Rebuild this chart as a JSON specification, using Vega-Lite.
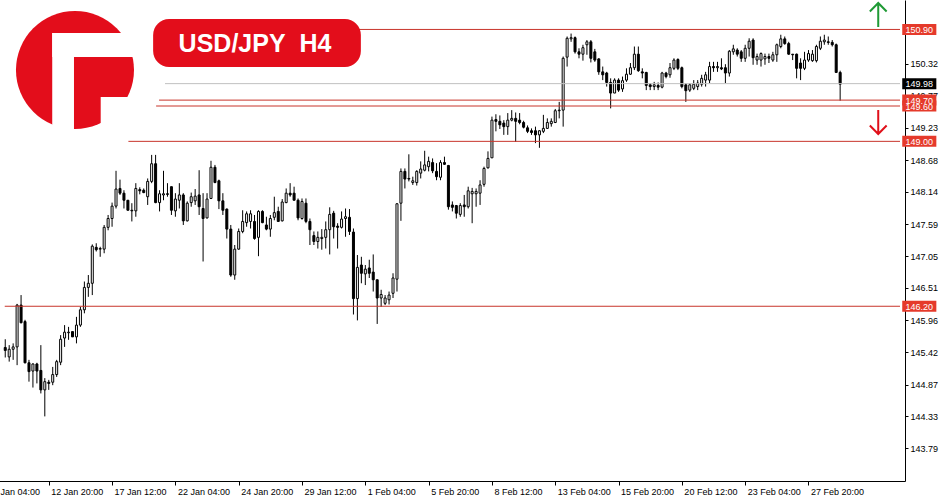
{
  "$schema": "https://vega.github.io/schema/vega-lite/v6.json",
  "width": 929,
  "height": 481,
  "autosize": "none",
  "padding": {"left": -24, "top": 0, "right": 45, "bottom": 19},
  "background": "white",
  "config": {"view": {"stroke": null}},
  "resolve": {"scale": {"color": "independent"}},
  "datasets": {
    "candles": [
      {"i":5,"o":145.50,"h":145.64,"l":145.33,"c":145.45},
      {"i":6,"o":145.34,"h":145.54,"l":145.26,"c":145.47},
      {"i":7,"o":145.47,"h":145.57,"l":145.29,"c":145.51},
      {"i":8,"o":145.51,"h":146.24,"l":145.20,"c":146.22},
      {"i":9,"o":146.22,"h":146.39,"l":145.91,"c":145.92},
      {"i":10,"o":145.94,"h":145.97,"l":145.23,"c":145.24},
      {"i":11,"o":145.24,"h":145.29,"l":144.92,"c":145.09},
      {"i":12,"o":145.10,"h":145.23,"l":144.82,"c":145.22},
      {"i":13,"o":145.22,"h":145.24,"l":144.89,"c":145.10},
      {"i":14,"o":145.11,"h":145.54,"l":144.72,"c":144.78},
      {"i":15,"o":144.78,"h":144.98,"l":144.33,"c":144.92},
      {"i":16,"o":144.91,"h":144.95,"l":144.78,"c":144.89},
      {"i":17,"o":144.91,"h":145.17,"l":144.86,"c":145.04},
      {"i":18,"o":145.04,"h":145.29,"l":145.00,"c":145.26},
      {"i":19,"o":145.25,"h":145.71,"l":145.20,"c":145.64},
      {"i":20,"o":145.66,"h":145.88,"l":145.51,"c":145.76},
      {"i":21,"o":145.75,"h":145.85,"l":145.63,"c":145.76},
      {"i":22,"o":145.77,"h":145.77,"l":145.68,"c":145.68},
      {"i":23,"o":145.68,"h":146.02,"l":145.57,"c":145.88},
      {"i":24,"o":145.88,"h":146.19,"l":145.85,"c":146.14},
      {"i":25,"o":146.14,"h":146.62,"l":146.08,"c":146.52},
      {"i":26,"o":146.52,"h":146.73,"l":146.36,"c":146.59},
      {"i":27,"o":146.59,"h":147.25,"l":146.39,"c":147.22},
      {"i":28,"o":147.20,"h":147.27,"l":147.13,"c":147.16},
      {"i":29,"o":147.17,"h":147.21,"l":147.04,"c":147.18},
      {"i":30,"o":147.17,"h":147.58,"l":147.10,"c":147.54},
      {"i":31,"o":147.54,"h":147.75,"l":147.49,"c":147.69},
      {"i":32,"o":147.69,"h":147.96,"l":147.55,"c":147.90},
      {"i":33,"o":147.90,"h":148.50,"l":147.86,"c":148.19},
      {"i":34,"o":148.20,"h":148.35,"l":148.09,"c":148.12},
      {"i":35,"o":148.12,"h":148.17,"l":147.86,"c":148.00},
      {"i":36,"o":148.00,"h":148.00,"l":147.83,"c":147.83},
      {"i":37,"o":147.83,"h":147.95,"l":147.64,"c":147.82},
      {"i":38,"o":147.82,"h":148.29,"l":147.72,"c":148.20},
      {"i":39,"o":148.18,"h":148.22,"l":148.10,"c":148.16},
      {"i":40,"o":148.17,"h":148.20,"l":148.12,"c":148.13},
      {"i":41,"o":148.06,"h":148.37,"l":147.92,"c":148.32},
      {"i":42,"o":148.32,"h":148.77,"l":148.29,"c":148.62},
      {"i":43,"o":148.62,"h":148.77,"l":147.95,"c":147.96},
      {"i":44,"o":147.96,"h":148.17,"l":147.81,"c":148.11},
      {"i":45,"o":148.09,"h":148.50,"l":148.00,"c":148.11},
      {"i":46,"o":148.11,"h":148.29,"l":148.06,"c":148.10},
      {"i":47,"o":148.23,"h":148.23,"l":147.75,"c":147.83},
      {"i":48,"o":147.82,"h":148.12,"l":147.72,"c":148.02},
      {"i":49,"o":148.00,"h":148.29,"l":147.86,"c":148.09},
      {"i":50,"o":148.09,"h":148.12,"l":147.58,"c":147.65},
      {"i":51,"o":147.65,"h":147.98,"l":147.64,"c":147.95},
      {"i":52,"o":147.96,"h":148.13,"l":147.89,"c":148.06},
      {"i":53,"o":147.99,"h":148.19,"l":147.92,"c":148.07},
      {"i":54,"o":148.09,"h":148.51,"l":147.75,"c":147.89},
      {"i":55,"o":147.86,"h":148.12,"l":146.96,"c":147.69},
      {"i":56,"o":147.70,"h":148.12,"l":147.69,"c":148.02},
      {"i":57,"o":148.03,"h":148.67,"l":148.02,"c":148.56},
      {"i":58,"o":148.56,"h":148.60,"l":148.29,"c":148.30},
      {"i":59,"o":148.33,"h":148.35,"l":147.85,"c":147.99},
      {"i":60,"o":147.99,"h":148.12,"l":147.75,"c":147.83},
      {"i":61,"o":147.85,"h":147.86,"l":147.35,"c":147.51},
      {"i":62,"o":147.51,"h":147.58,"l":146.70,"c":146.73},
      {"i":63,"o":146.73,"h":147.24,"l":146.65,"c":147.17},
      {"i":64,"o":147.17,"h":147.52,"l":147.16,"c":147.47},
      {"i":65,"o":147.47,"h":147.83,"l":147.44,"c":147.64},
      {"i":66,"o":147.62,"h":147.81,"l":147.55,"c":147.77},
      {"i":67,"o":147.64,"h":147.83,"l":147.52,"c":147.77},
      {"i":68,"o":147.64,"h":147.75,"l":147.33,"c":147.35},
      {"i":69,"o":147.37,"h":147.83,"l":147.05,"c":147.81},
      {"i":70,"o":147.81,"h":147.83,"l":147.61,"c":147.62},
      {"i":71,"o":147.58,"h":147.72,"l":147.49,"c":147.51},
      {"i":72,"o":147.51,"h":147.75,"l":147.38,"c":147.69},
      {"i":73,"o":147.71,"h":148.06,"l":147.66,"c":147.79},
      {"i":74,"o":147.81,"h":147.89,"l":147.64,"c":147.64},
      {"i":75,"o":147.65,"h":148.02,"l":147.64,"c":147.97},
      {"i":76,"o":147.96,"h":148.20,"l":147.95,"c":148.12},
      {"i":77,"o":148.12,"h":148.29,"l":148.06,"c":148.09},
      {"i":78,"o":148.12,"h":148.23,"l":148.00,"c":148.00},
      {"i":79,"o":148.00,"h":148.03,"l":147.66,"c":147.70},
      {"i":80,"o":147.69,"h":148.03,"l":147.67,"c":147.98},
      {"i":81,"o":147.95,"h":148.03,"l":147.61,"c":147.64},
      {"i":82,"o":147.64,"h":147.69,"l":147.24,"c":147.50},
      {"i":83,"o":147.40,"h":147.47,"l":147.24,"c":147.30},
      {"i":84,"o":147.30,"h":147.47,"l":147.18,"c":147.37},
      {"i":85,"o":147.35,"h":147.51,"l":147.16,"c":147.37},
      {"i":86,"o":147.37,"h":147.64,"l":147.18,"c":147.50},
      {"i":87,"o":147.50,"h":147.88,"l":147.08,"c":147.76},
      {"i":88,"o":147.78,"h":147.82,"l":147.35,"c":147.55},
      {"i":89,"o":147.56,"h":147.61,"l":147.18,"c":147.54},
      {"i":90,"o":147.54,"h":147.81,"l":147.52,"c":147.68},
      {"i":91,"o":147.69,"h":147.86,"l":147.38,"c":147.72},
      {"i":92,"o":147.71,"h":147.85,"l":147.41,"c":147.47},
      {"i":93,"o":147.46,"h":147.52,"l":146.06,"c":146.33},
      {"i":94,"o":146.33,"h":147.07,"l":145.96,"c":146.86},
      {"i":95,"o":146.90,"h":147.04,"l":146.59,"c":146.76},
      {"i":96,"o":146.75,"h":146.90,"l":146.56,"c":146.83},
      {"i":97,"o":146.85,"h":146.99,"l":146.68,"c":146.76},
      {"i":98,"o":146.78,"h":147.08,"l":146.45,"c":146.65},
      {"i":99,"o":146.65,"h":146.65,"l":145.90,"c":146.34},
      {"i":100,"o":146.34,"h":146.48,"l":146.19,"c":146.40},
      {"i":101,"o":146.25,"h":146.39,"l":146.22,"c":146.34},
      {"i":102,"o":146.31,"h":146.45,"l":146.23,"c":146.39},
      {"i":103,"o":146.42,"h":146.76,"l":146.34,"c":146.68},
      {"i":104,"o":146.66,"h":147.95,"l":146.45,"c":147.94},
      {"i":105,"o":147.95,"h":148.54,"l":147.65,"c":148.49},
      {"i":106,"o":148.49,"h":148.54,"l":148.20,"c":148.36},
      {"i":107,"o":148.37,"h":148.78,"l":148.32,"c":148.36},
      {"i":108,"o":148.30,"h":148.40,"l":148.26,"c":148.33},
      {"i":109,"o":148.30,"h":148.51,"l":148.25,"c":148.49},
      {"i":110,"o":148.46,"h":148.66,"l":148.37,"c":148.53},
      {"i":111,"o":148.51,"h":148.84,"l":148.49,"c":148.60},
      {"i":112,"o":148.57,"h":148.74,"l":148.49,"c":148.66},
      {"i":113,"o":148.64,"h":148.71,"l":148.46,"c":148.50},
      {"i":114,"o":148.49,"h":148.63,"l":148.34,"c":148.40},
      {"i":115,"o":148.39,"h":148.68,"l":148.34,"c":148.64},
      {"i":116,"o":148.64,"h":148.74,"l":148.60,"c":148.61},
      {"i":117,"o":148.59,"h":148.60,"l":147.84,"c":147.89},
      {"i":118,"o":147.92,"h":147.98,"l":147.81,"c":147.88},
      {"i":119,"o":147.91,"h":147.92,"l":147.69,"c":147.78},
      {"i":120,"o":147.76,"h":147.95,"l":147.72,"c":147.91},
      {"i":121,"o":147.92,"h":148.09,"l":147.72,"c":147.89},
      {"i":122,"o":147.89,"h":148.23,"l":147.86,"c":148.16},
      {"i":123,"o":148.11,"h":148.21,"l":147.61,"c":148.15},
      {"i":124,"o":148.11,"h":148.20,"l":147.89,"c":148.15},
      {"i":125,"o":148.12,"h":148.34,"l":147.92,"c":148.26},
      {"i":126,"o":148.27,"h":148.57,"l":148.23,"c":148.54},
      {"i":127,"o":148.55,"h":148.83,"l":148.54,"c":148.71},
      {"i":128,"o":148.72,"h":149.42,"l":148.72,"c":149.36},
      {"i":129,"o":149.37,"h":149.46,"l":149.17,"c":149.34},
      {"i":130,"o":149.34,"h":149.44,"l":149.21,"c":149.28},
      {"i":131,"o":149.31,"h":149.36,"l":149.11,"c":149.25},
      {"i":132,"o":149.25,"h":149.48,"l":149.11,"c":149.36},
      {"i":133,"o":149.36,"h":149.53,"l":149.34,"c":149.39},
      {"i":134,"o":149.39,"h":149.49,"l":148.99,"c":149.34},
      {"i":135,"o":149.36,"h":149.48,"l":149.29,"c":149.32},
      {"i":136,"o":149.32,"h":149.35,"l":149.22,"c":149.24},
      {"i":137,"o":149.23,"h":149.27,"l":149.14,"c":149.17},
      {"i":138,"o":149.18,"h":149.22,"l":149.11,"c":149.15},
      {"i":139,"o":149.18,"h":149.25,"l":148.97,"c":149.11},
      {"i":140,"o":149.11,"h":149.19,"l":148.89,"c":149.18},
      {"i":141,"o":149.17,"h":149.45,"l":149.14,"c":149.22},
      {"i":142,"o":149.22,"h":149.39,"l":149.21,"c":149.32},
      {"i":143,"o":149.30,"h":149.39,"l":149.25,"c":149.34},
      {"i":144,"o":149.32,"h":149.55,"l":149.31,"c":149.52},
      {"i":145,"o":149.52,"h":149.67,"l":149.39,"c":149.53},
      {"i":146,"o":149.53,"h":150.44,"l":149.25,"c":150.41},
      {"i":147,"o":150.43,"h":150.78,"l":150.27,"c":150.75},
      {"i":148,"o":150.74,"h":150.83,"l":150.69,"c":150.76},
      {"i":149,"o":150.76,"h":150.78,"l":150.49,"c":150.52},
      {"i":150,"o":150.52,"h":150.58,"l":150.41,"c":150.48},
      {"i":151,"o":150.48,"h":150.64,"l":150.37,"c":150.59},
      {"i":152,"o":150.64,"h":150.72,"l":150.47,"c":150.69},
      {"i":153,"o":150.69,"h":150.72,"l":150.34,"c":150.41},
      {"i":154,"o":150.52,"h":150.57,"l":150.35,"c":150.38},
      {"i":155,"o":150.40,"h":150.41,"l":150.13,"c":150.18},
      {"i":156,"o":150.18,"h":150.27,"l":150.04,"c":150.13},
      {"i":157,"o":150.16,"h":150.18,"l":149.93,"c":150.00},
      {"i":158,"o":150.00,"h":150.07,"l":149.56,"c":149.82},
      {"i":159,"o":149.82,"h":150.07,"l":149.82,"c":150.04},
      {"i":160,"o":150.04,"h":150.07,"l":149.84,"c":149.87},
      {"i":161,"o":149.89,"h":150.10,"l":149.84,"c":150.03},
      {"i":162,"o":150.04,"h":150.24,"l":150.01,"c":150.14},
      {"i":163,"o":150.14,"h":150.33,"l":150.13,"c":150.25},
      {"i":164,"o":150.25,"h":150.61,"l":150.21,"c":150.48},
      {"i":165,"o":150.48,"h":150.61,"l":150.18,"c":150.20},
      {"i":166,"o":150.18,"h":150.24,"l":150.07,"c":150.16},
      {"i":167,"o":150.17,"h":150.18,"l":149.87,"c":149.95},
      {"i":168,"o":149.96,"h":149.99,"l":149.87,"c":149.93},
      {"i":169,"o":149.93,"h":150.01,"l":149.87,"c":149.96},
      {"i":170,"o":149.95,"h":150.00,"l":149.87,"c":149.92},
      {"i":171,"o":149.92,"h":150.18,"l":149.90,"c":150.16},
      {"i":172,"o":150.16,"h":150.18,"l":150.07,"c":150.10},
      {"i":173,"o":150.13,"h":150.33,"l":150.08,"c":150.25},
      {"i":174,"o":150.24,"h":150.41,"l":150.21,"c":150.38},
      {"i":175,"o":150.39,"h":150.41,"l":150.21,"c":150.24},
      {"i":176,"o":150.25,"h":150.27,"l":149.90,"c":149.93},
      {"i":177,"o":149.96,"h":149.99,"l":149.67,"c":149.86},
      {"i":178,"o":149.87,"h":149.99,"l":149.84,"c":149.96},
      {"i":179,"o":149.90,"h":150.04,"l":149.87,"c":149.97},
      {"i":180,"o":149.93,"h":150.04,"l":149.87,"c":149.99},
      {"i":181,"o":149.97,"h":150.13,"l":149.93,"c":150.07},
      {"i":182,"o":150.04,"h":150.18,"l":149.93,"c":150.13},
      {"i":183,"o":150.04,"h":150.35,"l":149.99,"c":150.27},
      {"i":184,"o":150.27,"h":150.35,"l":150.18,"c":150.25},
      {"i":185,"o":150.25,"h":150.35,"l":150.18,"c":150.27},
      {"i":186,"o":150.25,"h":150.41,"l":150.21,"c":150.23},
      {"i":187,"o":150.25,"h":150.31,"l":149.99,"c":150.16},
      {"i":188,"o":150.16,"h":150.55,"l":150.10,"c":150.53},
      {"i":189,"o":150.52,"h":150.64,"l":150.47,"c":150.57},
      {"i":190,"o":150.55,"h":150.58,"l":150.44,"c":150.48},
      {"i":191,"o":150.52,"h":150.55,"l":150.35,"c":150.41},
      {"i":192,"o":150.41,"h":150.64,"l":150.35,"c":150.58},
      {"i":193,"o":150.58,"h":150.75,"l":150.44,"c":150.70},
      {"i":194,"o":150.72,"h":150.75,"l":150.30,"c":150.42},
      {"i":195,"o":150.38,"h":150.49,"l":150.30,"c":150.44},
      {"i":196,"o":150.38,"h":150.51,"l":150.27,"c":150.49},
      {"i":197,"o":150.40,"h":150.49,"l":150.30,"c":150.44},
      {"i":198,"o":150.44,"h":150.49,"l":150.33,"c":150.41},
      {"i":199,"o":150.38,"h":150.52,"l":150.35,"c":150.47},
      {"i":200,"o":150.47,"h":150.66,"l":150.35,"c":150.64},
      {"i":201,"o":150.61,"h":150.81,"l":150.58,"c":150.74},
      {"i":202,"o":150.74,"h":150.78,"l":150.64,"c":150.66},
      {"i":203,"o":150.66,"h":150.69,"l":150.47,"c":150.48},
      {"i":204,"o":150.48,"h":150.48,"l":150.38,"c":150.47},
      {"i":205,"o":150.48,"h":150.49,"l":150.07,"c":150.24},
      {"i":206,"o":150.33,"h":150.41,"l":150.04,"c":150.24},
      {"i":207,"o":150.24,"h":150.52,"l":150.21,"c":150.38},
      {"i":208,"o":150.38,"h":150.55,"l":150.35,"c":150.49},
      {"i":209,"o":150.37,"h":150.55,"l":150.35,"c":150.48},
      {"i":210,"o":150.37,"h":150.64,"l":150.34,"c":150.61},
      {"i":211,"o":150.58,"h":150.78,"l":150.55,"c":150.70},
      {"i":212,"o":150.69,"h":150.81,"l":150.64,"c":150.72},
      {"i":213,"o":150.69,"h":150.78,"l":150.64,"c":150.68},
      {"i":214,"o":150.68,"h":150.72,"l":150.61,"c":150.64},
      {"i":215,"o":150.64,"h":150.66,"l":150.16,"c":150.17},
      {"i":216,"o":150.17,"h":150.20,"l":149.69,"c":149.97}
    ],
    "levels": [
      {"p":150.90,"t":"150.90","from":94.375,"k":"level"},
      {"p":149.70,"t":"149.70","from":43.875,"k":"level"},
      {"p":149.60,"t":"149.60","from":43.125,"k":"level"},
      {"p":149.00,"t":"149.00","from":36.125,"k":"level"},
      {"p":146.20,"t":"146.20","from":4.875,"k":"level"},
      {"p":149.98,"t":"149.98","from":45.375,"k":"bid"}
    ]
  },
  "layer": [
    {
      "data": {"name": "candles"},
      "mark": {"type": "rule", "color": "black", "strokeWidth": 1, "clip": true},
      "encoding": {
        "x": {"field": "i", "type": "quantitative",
          "scale": {"domain": [-1.125, 231.125], "nice": false, "zero": false},
          "axis": {
            "orient": "bottom", "title": null, "grid": false,
            "values": [0,16,32,48,64,80,96,112,128,144,160,176,192,208],
            "labelExpr": "['10 Jan 04:00','12 Jan 20:00','17 Jan 12:00','22 Jan 04:00','24 Jan 20:00','29 Jan 12:00','1 Feb 04:00','5 Feb 20:00','8 Feb 12:00','13 Feb 04:00','15 Feb 20:00','20 Feb 12:00','23 Feb 04:00','27 Feb 20:00'][round(datum.value/16)]",
            "labelAlign": "left", "labelBaseline": "top", "labelOffset": 2, "labelPadding": 2,
            "labelFont": "Liberation Sans", "labelFontSize": 9, "labelColor": "black",
            "labelOverlap": false, "labelBound": false, "labelFlush": false,
            "domainColor": "black", "tickColor": "black", "tickSize": 4
          }},
        "y": {"field": "l", "type": "quantitative",
          "scale": {"domain": [143.233, 151.40], "nice": false, "zero": false},
          "axis": {
            "orient": "right", "title": null, "grid": false,
            "values": [143.79,144.33,144.87,145.42,145.96,146.51,147.05,147.59,148.14,148.68,149.23,149.77,150.32],
            "format": ".2f",
            "labelFont": "Liberation Sans", "labelFontSize": 9, "labelColor": "black",
            "labelPadding": 2, "labelOverlap": false, "labelBound": false, "labelFlush": false,
            "domainColor": "black", "tickColor": "black", "tickSize": 3
          }},
        "y2": {"field": "h"}
      }
    },
    {
      "data": {"name": "candles"},
      "mark": {"type": "bar", "width": 2, "stroke": "black", "strokeWidth": 1, "clip": true},
      "encoding": {
        "x": {"field": "i", "type": "quantitative"},
        "y": {"field": "o", "type": "quantitative"},
        "y2": {"field": "c"},
        "fill": {"condition": {"test": "datum.c >= datum.o", "value": "white"}, "value": "black"}
      }
    },
    {
      "data": {"name": "levels"},
      "mark": {"type": "rule", "strokeWidth": 1, "clip": false},
      "encoding": {
        "x": {"field": "from", "type": "quantitative"},
        "x2": {"datum": 231.125},
        "y": {"field": "p", "type": "quantitative"},
        "stroke": {"field": "k", "type": "nominal", "legend": null,
          "scale": {"domain": ["level", "bid"], "range": ["#c8352b", "#c0c0c0"]}}
      }
    },
    {
      "data": {"name": "levels"},
      "mark": {"type": "point", "filled": true, "opacity": 1, "size": 484,
        "shape": "M-1.55,-0.5H1.55V0.5H-1.55Z", "strokeWidth": 0, "clip": false},
      "encoding": {
        "x": {"datum": 236.0},
        "y": {"field": "p", "type": "quantitative"},
        "fill": {"field": "k", "type": "nominal", "legend": null,
          "scale": {"domain": ["level", "bid"], "range": ["#e53a2b", "#000000"]}}
      }
    },
    {
      "data": {"name": "levels"},
      "mark": {"type": "text", "color": "white", "font": "Liberation Sans", "fontSize": 9,
        "align": "center", "baseline": "middle", "dy": 0.5, "clip": false},
      "encoding": {
        "x": {"datum": 236.0},
        "y": {"field": "p", "type": "quantitative"},
        "text": {"field": "t"}
      }
    },
    {
      "data": {"values": [{}]},
      "mark": {"type": "point", "shape": "circle", "filled": true, "opacity": 1, "size": 13924, "color": "#e30d1b", "strokeWidth": 0},
      "encoding": {"x": {"datum": 22.625}, "y": {"datum": 150.2115}}
    },
    {
      "data": {"values": [{}]},
      "mark": {"type": "rect", "color": "white"},
      "encoding": {"x": {"datum": 16.875}, "x2": {"datum": 22.375}, "y": {"datum": 150.84}, "y2": {"datum": 149.17}}
    },
    {
      "data": {"values": [{}]},
      "mark": {"type": "rect", "color": "white"},
      "encoding": {"x": {"datum": 16.875}, "x2": {"datum": 38.9}, "y": {"datum": 150.84}, "y2": {"datum": 150.432}}
    },
    {
      "data": {"values": [{}]},
      "mark": {"type": "rect", "color": "white"},
      "encoding": {"x": {"datum": 29.125}, "x2": {"datum": 38.9}, "y": {"datum": 149.753}, "y2": {"datum": 149.17}}
    },
    {
      "data": {"values": [{}]},
      "mark": {"type": "rect", "color": "#e30d1b", "cornerRadius": 16},
      "encoding": {"x": {"datum": 42.375}, "x2": {"datum": 94.875}, "y": {"datum": 151.077}, "y2": {"datum": 150.2625}}
    },
    {
      "data": {"values": [{}]},
      "mark": {"type": "text", "text": "USD/JPY\u00a0\u00a0H4", "color": "white", "font": "Liberation Sans", "fontWeight": "bold", "fontSize": 25, "align": "center", "baseline": "middle", "dy": 1},
      "encoding": {"x": {"datum": 68.125}, "y": {"datum": 150.67}}
    },
    {
      "data": {"values": [{}]},
      "mark": {"type": "point", "shape": "M0,-1V1M-0.7,-0.3L0,-1L0.7,-0.3", "filled": false, "opacity": 1, "size": 576, "color": "#1f9a35", "strokeWidth": 2, "clip": false},
      "encoding": {"x": {"datum": 225.625}, "y": {"datum": 151.145}}
    },
    {
      "data": {"values": [{}]},
      "mark": {"type": "point", "shape": "M0,-1V1M-0.7,0.3L0,1L0.7,0.3", "filled": false, "opacity": 1, "size": 576, "color": "#e0101a", "strokeWidth": 2, "clip": false},
      "encoding": {"x": {"datum": 225.625}, "y": {"datum": 149.329}}
    }
  ]
}
